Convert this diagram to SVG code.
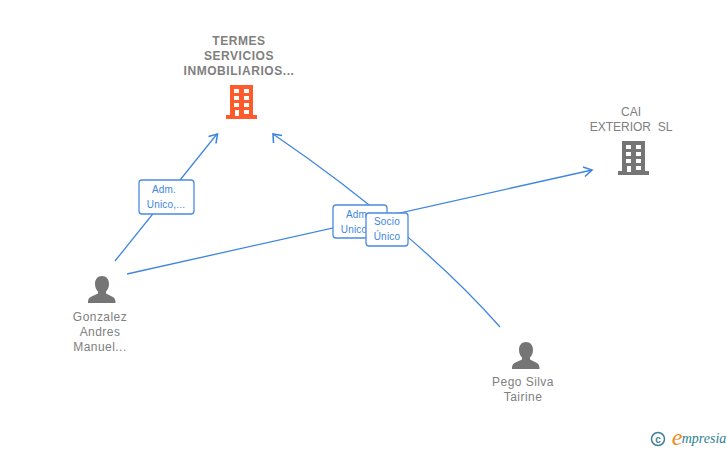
<svg xmlns="http://www.w3.org/2000/svg" width="728" height="450" viewBox="0 0 728 450">
<style>
text{font-family:"Liberation Sans",Arial,sans-serif;text-anchor:middle}
.n{font-size:12px;fill:#808080;letter-spacing:.45px}
.t{font-size:12px;fill:#808080}
.b{font-size:12px;font-weight:bold;fill:#808080;letter-spacing:.55px}
.l{font-size:10px;fill:#3d85e0;letter-spacing:.2px}
.c{fill:none;stroke:#3f86e0;stroke-width:1.3}
.box{fill:#fff;stroke:#4a8be0;stroke-width:1.3}
.ah{fill:none;stroke:#3f86e0;stroke-width:1.6}
</style>
<defs>
<path id="bld" fill-rule="evenodd" d="M4 0H27V30H31V34H0V30H4ZM8 4V8H13V4ZM18 4V8H23V4ZM8 11V15H13V11ZM18 11V15H23V11ZM8 18V22H13V18ZM18 18V22H23V18ZM9 25V31H13V25ZM18 25V29H23V25Z"/>
<path id="psn" d="M14 0C18.500 0 21 3.500 21 8C21 11.500 19.500 14 18 15.500V17.500L24 20.500C26.500 21.500 27.500 23 27.500 27H0C0 23 1 21.500 3.500 20.500L10 17.500V15.500C8.500 14 7 11.500 7 8C7 3.500 9.500 0 14 0Z"/>
</defs>
<g id="connectors">
<path class="c" d="M115 261L217 134"/>
<path class="c" d="M127 274L592 170"/>
<path class="c" d="M500 327C450 270 370 200 273 134"/>
<path class="ah" d="M208.500 136.500L217.500 134L216 143.500"/>
<path class="ah" d="M273.500 143L273 134L282 135.500"/>
<path class="ah" d="M583 167L592 170L585 176.500"/>
</g>
<g id="edge-label-1"><rect class="box" x="139" y="180" width="55" height="34" rx="3"/><text class="l" x="164" y="193">Adm.</text><text class="l" x="166" y="208">Unico,...</text></g>
<g id="edge-label-2"><rect class="box" x="333" y="205" width="54" height="33" rx="3"/><text class="l" x="358" y="218">Adm.</text><text class="l" x="360" y="233">Unico,...</text></g>
<g id="edge-label-3"><rect class="box" x="366" y="213" width="42" height="33" rx="3"/><text class="l" x="387" y="225">Socio</text><text class="l" x="387" y="240">Único</text></g>
<g id="node-termes"><text class="b" x="239" y="45">TERMES</text><text class="b" x="239" y="60">SERVICIOS</text><text class="b" x="239" y="75">INMOBILIARIOS...</text><use href="#bld" x="226" y="85" fill="#ff5a2b"/></g>
<g id="node-cai"><text class="t" x="631" y="116">CAI</text><text class="t" x="631" y="131" xml:space="preserve">EXTERIOR  SL</text><use href="#bld" x="618" y="141" fill="#757575"/></g>
<g id="node-gonzalez"><use href="#psn" x="88" y="276" fill="#757575"/><text class="n" x="100" y="321">Gonzalez</text><text class="n" x="100" y="336">Andres</text><text class="n" x="100" y="351">Manuel...</text></g>
<g id="node-pego"><use href="#psn" x="512" y="342" fill="#757575"/><text class="n" x="523" y="386">Pego Silva</text><text class="n" x="523" y="401">Tairine</text></g>
<g id="watermark"><circle cx="658" cy="439" r="6.500" fill="none" stroke="#3f7f9b" stroke-width="1.500"/><text x="658" y="443" style="font-size:10px;fill:#3f7f9b;font-weight:bold">c</text><text x="677" y="445" style="font-family:'Liberation Serif',serif;font-style:italic;font-size:24px;fill:#f08a1d">e</text><text x="704" y="443" style="font-family:'Liberation Serif',serif;font-style:italic;font-size:14px;fill:#2e7f90">mpresia</text></g>
</svg>
